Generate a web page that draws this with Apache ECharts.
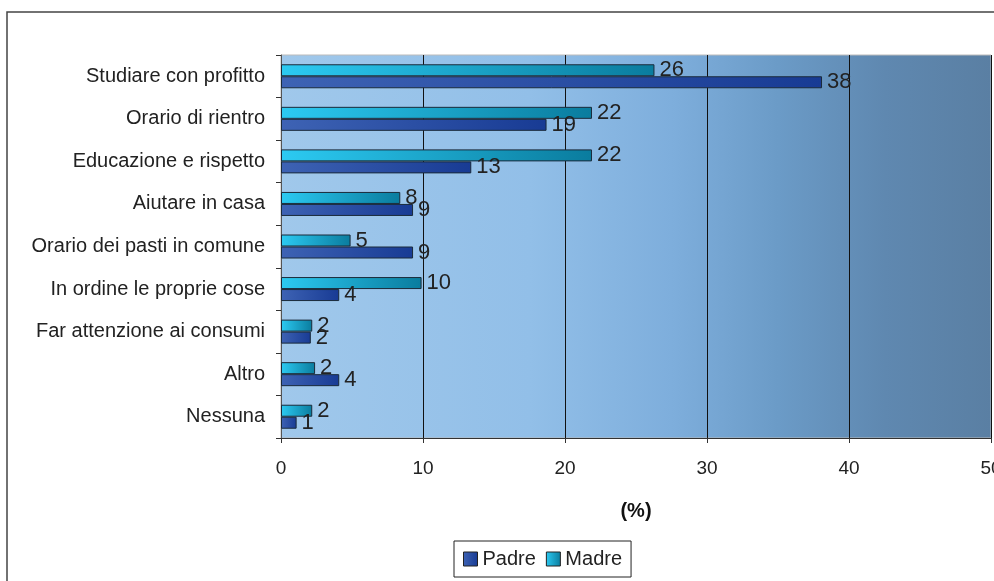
<!DOCTYPE html>
<html><head><meta charset="utf-8">
<script src="https://cdn.jsdelivr.net/npm/echarts@6/dist/echarts.min.js"></script>
<style>html,body{margin:0;padding:0;background:#fff}#c{width:994px;height:581px}</style>
</head><body><div id="c"></div>
<script>
var categories = ["Studiare con profitto","Orario di rientro","Educazione e rispetto","Aiutare in casa","Orario dei pasti in comune","In ordine le proprie cose","Far attenzione ai consumi","Altro","Nessuna"];
var padre = [38.1, 18.7, 13.4, 9.3, 9.3, 4.1, 2.1, 4.1, 1.1];
var madre = [26.3, 21.9, 21.9, 8.4, 4.9, 9.9, 2.2, 2.4, 2.2];
var xTicks = [0, 10, 20, 30, 40, 50];

var chart = echarts.init(document.getElementById('c'));
var G = echarts.graphic.LinearGradient;
var madreColor = new G(0,0,1,0,[{offset:0,color:'#2ccaf2'},{offset:1,color:'#0a7c9e'}]);
var padreColor = new G(0,0,1,0,[{offset:0,color:'#3e63b4'},{offset:1,color:'#183b94'}]);
function lbl(p){ return Math.round(p.value); }
chart.setOption({
  animation:false,
  textStyle:{fontFamily:'Liberation Sans, Arial, sans-serif'},
  graphic:[{type:'rect',z:-10,shape:{x:7,y:12,width:1000,height:600},style:{fill:'none',stroke:'#444',lineWidth:1.5}}],
  grid:{left:281,top:55,width:710,height:383,outerBoundsMode:'none',containLabel:false,show:true,borderColor:'#bbb',borderWidth:1,
    backgroundColor:new G(0,0,1,0,[{offset:0,color:'#a0c8eb'},{offset:0.35,color:'#92bfe8'},{offset:0.55,color:'#7eaedc'},{offset:0.7,color:'#6b9bc7'},{offset:0.85,color:'#5f88b0'},{offset:1,color:'#5a7fa3'}])},
  legend:{data:['Padre','Madre'],left:454,top:541,borderColor:'#222',borderWidth:1,padding:[8,9,8,9],
    itemWidth:14,itemHeight:14,itemGap:10,icon:'rect',textStyle:{fontSize:20,color:'#222'},
    itemStyle:{borderColor:'#222',borderWidth:1}},
  xAxis:{type:'value',min:xTicks[0],max:xTicks[xTicks.length-1],interval:10,
    name:'(%)',nameLocation:'middle',nameGap:63,nameTextStyle:{fontSize:20,fontWeight:'bold',color:'#111'},
    axisLine:{show:true,lineStyle:{color:'#333'}},axisTick:{show:true,length:5,lineStyle:{color:'#333'}},
    axisLabel:{fontSize:19,color:'#222',margin:21},
    splitLine:{show:true,lineStyle:{color:'#111',width:1}}},
  yAxis:{type:'category',inverse:true,data:categories,
    axisLine:{show:true,lineStyle:{color:'#555'}},axisTick:{show:true,length:5,lineStyle:{color:'#333'}},
    axisLabel:{fontSize:20,color:'#222',margin:16}},
  series:[
    {name:'Madre',type:'bar',data:madre,barWidth:12,barGap:'0%',
      itemStyle:{color:madreColor,borderColor:'#1a2a3a',borderWidth:1},
      label:{show:true,position:'right',distance:5,fontSize:22,color:'#222',formatter:lbl}},
    {name:'Padre',type:'bar',data:padre,barWidth:12,barGap:'0%',
      itemStyle:{color:padreColor,borderColor:'#1a2a3a',borderWidth:1},
      label:{show:true,position:'right',distance:5,fontSize:22,color:'#222',formatter:lbl}}
  ]
});
</script></body></html>
